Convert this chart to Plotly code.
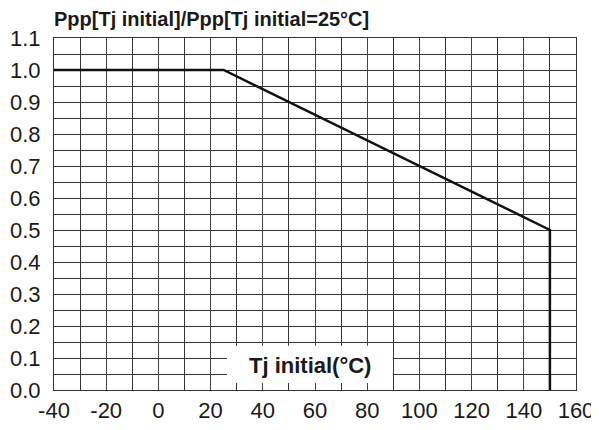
import plotly.graph_objects as go

tj = [-40, 25, 150, 150]
ratio = [1.0, 1.0, 0.5, 0.0]
x_ticks = [-40, -20, 0, 20, 40, 60, 80, 100, 120, 140, 160]
y_ticks = [0.0, 0.1, 0.2, 0.3, 0.4, 0.5, 0.6, 0.7, 0.8, 0.9, 1.0, 1.1]

fig = go.Figure()
fig.add_trace(go.Scatter(x=tj, y=ratio, mode="lines",
                         line=dict(color="#111111", width=2.5), showlegend=False))

fig.add_shape(type="rect", xref="x", yref="y", x0=26.3, x1=89.9, y0=0.022, y1=0.138,
              fillcolor="white", line=dict(width=0), layer="above")
fig.add_annotation(x=58, y=0.078, xref="x", yref="y", text="<b>Tj initial(°C)</b>",
                   showarrow=False, font=dict(size=22, color="#1a1a1a", family="Liberation Sans, Arial"))

fig.update_layout(
    width=591, height=422,
    margin=dict(l=46, r=23, t=30, b=40),
    paper_bgcolor="white", plot_bgcolor="white",
    font=dict(family="Liberation Sans, Arial", size=22, color="#1a1a1a"),
    title=dict(text="<b>Ppp[Tj initial]/Ppp[Tj initial=25°C]</b>", xref="paper", x=0, xanchor="left",
               yref="container", y=0.974, yanchor="middle", font=dict(size=20, color="#1a1a1a")),
)
fig.update_xaxes(range=[-40, 160], tickvals=x_ticks, ticktext=[str(v) for v in x_ticks],
                 showgrid=True, gridcolor="#444444", gridwidth=1,
                 minor=dict(dtick=10, showgrid=True, gridcolor="#333333", gridwidth=1),
                 showline=True, linecolor="#333333", mirror=True, zeroline=False,
                 ticks="", tickfont=dict(size=22), automargin=False, ticklabelstandoff=1)
fig.update_yaxes(range=[0, 1.1], tickvals=y_ticks, ticktext=[f"{v:.1f}" for v in y_ticks],
                 showgrid=True, gridcolor="#333333", gridwidth=1,
                 minor=dict(dtick=0.05, showgrid=True, gridcolor="#333333", gridwidth=1),
                 showline=True, linecolor="#333333", mirror=True, zeroline=False,
                 ticks="", tickfont=dict(size=22), automargin=False, ticklabelstandoff=8)

fig.write_html("out.html")
